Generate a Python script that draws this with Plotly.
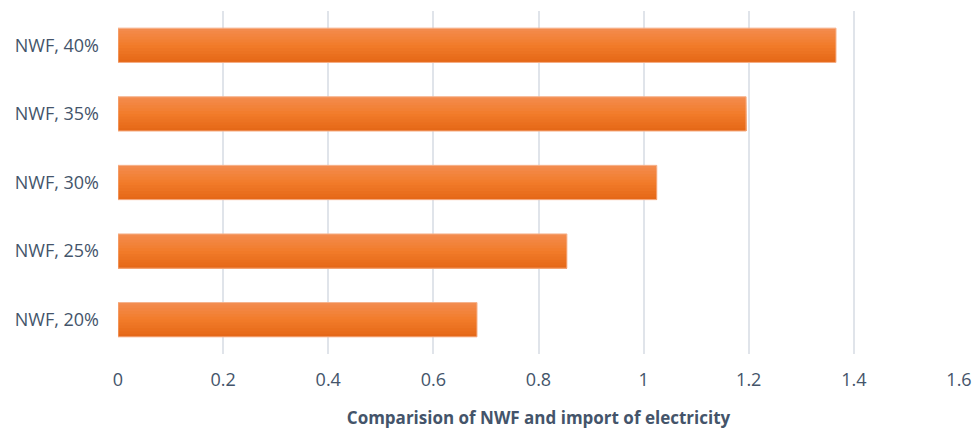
import plotly.graph_objects as go

categories = ["NWF, 20%", "NWF, 25%", "NWF, 30%", "NWF, 35%", "NWF, 40%"]
values = [0.683, 0.854, 1.025, 1.195, 1.366]
x_ticks = [0, 0.2, 0.4, 0.6, 0.8, 1, 1.2, 1.4, 1.6]
x_title = "Comparision of NWF and import of electricity"

font_color = "#44546A"
bar_width = 0.5

# vertical gradient (top -> bottom) approximated with nested bars
stops = [(0.0, (243, 140, 80)), (0.5, (242, 124, 42)), (1.0, (228, 102, 22))]


def grad(t):
    for (t0, c0), (t1, c1) in zip(stops[:-1], stops[1:]):
        if t <= t1:
            f = (t - t0) / (t1 - t0)
            return "rgb(%d,%d,%d)" % tuple(round(a + (b - a) * f) for a, b in zip(c0, c1))
    return "rgb(%d,%d,%d)" % stops[-1][1]


fig = go.Figure()
n = 12
for i in range(n):
    fig.add_trace(go.Bar(
        x=values, y=categories, orientation="h",
        width=bar_width * (1 - i / n), offset=-bar_width / 2,
        marker=dict(color=grad((i + 0.5) / n), line=dict(width=0)),
        hoverinfo="skip",
    ))
fig.add_trace(go.Bar(
    x=values, y=categories, orientation="h",
    width=bar_width, offset=-bar_width / 2,
    marker=dict(color="rgba(0,0,0,0)", line=dict(color="#F6B28C", width=1)),
))

fig.update_layout(
    width=974, height=433,
    margin=dict(l=118, r=15, t=11, b=79, autoexpand=False),
    paper_bgcolor="white", plot_bgcolor="white",
    font=dict(family="Open Sans", color=font_color, size=18),
    showlegend=False, barmode="overlay",
)
fig.update_xaxes(
    range=[0, 1.6], tickvals=x_ticks, ticktext=[str(t) for t in x_ticks],
    showgrid=True, gridcolor="#E0E4EA", gridwidth=2, zeroline=False,
    showline=False, ticklabelstandoff=13, automargin=False,
    tickfont=dict(size=18, color=font_color),
    title=dict(text=x_title, font=dict(size=17, color=font_color, weight="bold"), standoff=22),
)
fig.update_yaxes(
    categoryorder="array", categoryarray=categories,
    showgrid=False, zeroline=False, showline=False, ticklabelstandoff=18,
    automargin=False,
    tickfont=dict(size=18, color=font_color),
)

fig.write_html("out.html")
